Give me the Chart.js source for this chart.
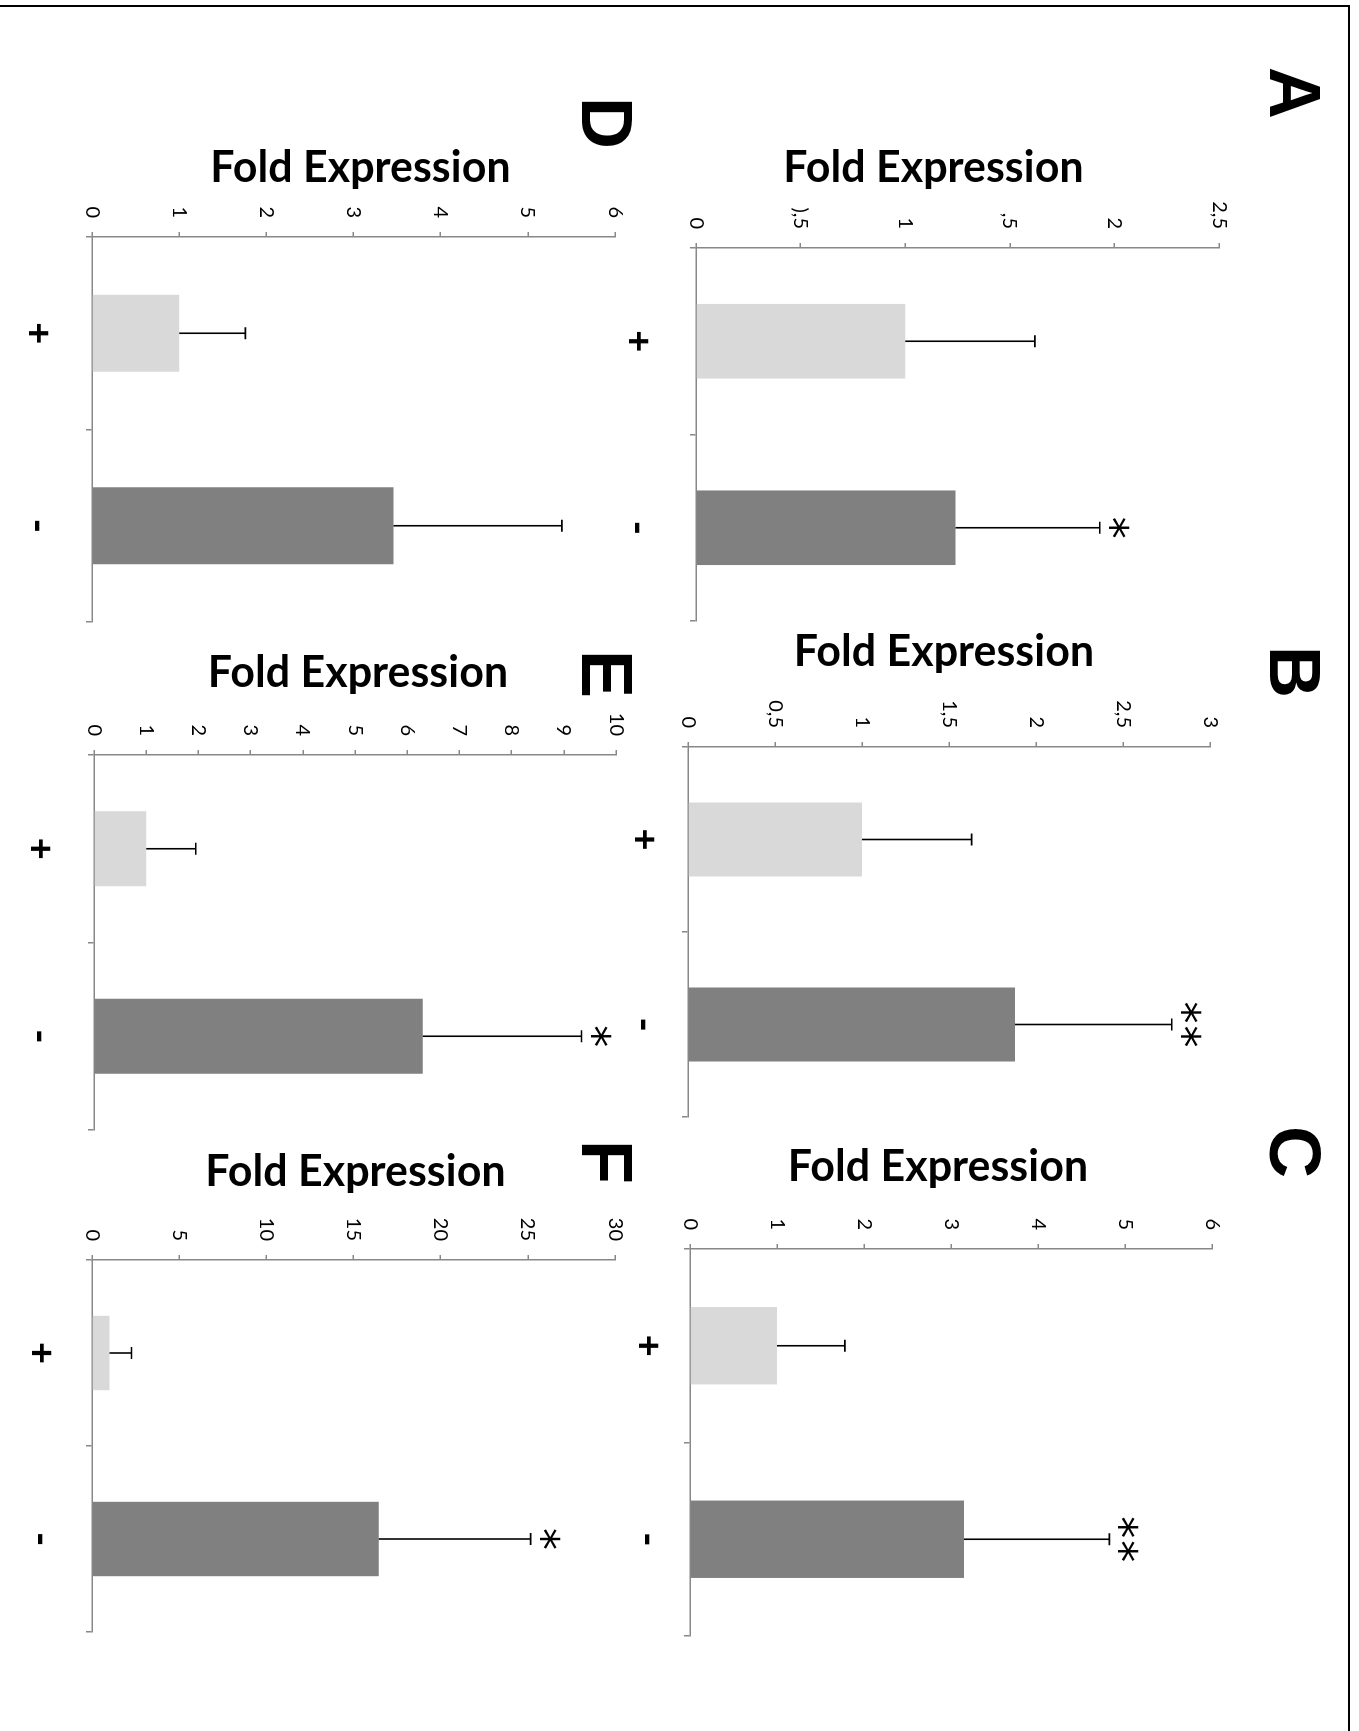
<!DOCTYPE html>
<html><head><meta charset="utf-8">
<script src="https://cdn.jsdelivr.net/npm/chart.js@4.4.1/dist/chart.umd.min.js"></script>
<style>
html,body{margin:0;padding:0;background:#fff;width:1359px;height:1731px;overflow:hidden;}
#fig{position:absolute;left:0;top:0;width:1731px;height:1359px;transform-origin:0 0;transform:translate(1359px,0) rotate(90deg);}
.letter{position:absolute;font-family:"Liberation Sans",Arial,sans-serif;font-weight:bold;font-size:72px;line-height:72px;color:#000;white-space:nowrap;}
#bt{position:absolute;left:0;top:5px;width:1350px;height:2px;background:#000;}
#br{position:absolute;left:1348px;top:5px;width:2px;height:1726px;background:#000;}
</style></head><body>
<div id="bt"></div><div id="br"></div>
<div id="fig"></div>
<script>
// ---- data ----
const categories = ['+', '-'];
const axisTitle = 'Fold Expression';
const panelLetters = ['A', 'B', 'C', 'D', 'E', 'F'];

const meanA = [1.0, 1.24];  const errA = [0.62, 0.69];  const sigA = ['', '*'];
const meanB = [1.0, 1.88];  const errB = [0.63, 0.90];  const sigB = ['', '**'];
const meanC = [1.0, 3.15];  const errC = [0.78, 1.67];  const sigC = ['', '**'];
const meanD = [1.0, 3.46];  const errD = [0.76, 1.93];  const sigD = ['', ''];
const meanE = [1.0, 6.30];  const errE = [0.95, 3.04];  const sigE = ['', '*'];
const meanF = [1.0, 16.45]; const errF = [1.27, 8.71];  const sigF = ['', '*'];

const ticksA = ['0', '),5', '1', ',5', '2', '2,5'];
const ticksB = ['0', '0,5', '1', '1,5', '2', '2,5', '3'];
const ticksC = ['0', '1', '2', '3', '4', '5', '6'];
const ticksD = ['0', '1', '2', '3', '4', '5', '6'];
const ticksE = ['0', '1', '2', '3', '4', '5', '6', '7', '8', '9', '10'];
const ticksF = ['0', '5', '10', '15', '20', '25', '30'];

const axisMax  = [2.5, 3, 6, 6, 10, 30];
const axisStep = [0.5, 0.5, 1, 1, 1, 5];

// ---- layout (original, unrotated figure coordinates) ----
const layoutBoxes = [
  {left: 248, right: 621, top: 140, bottom: 663, titleX: 168, titleShift: 24, labelPad: 29, lx: 67,   ly: 28},
  {left: 747, right: 1117, top: 149, bottom: 671, titleX: 652, titleShift: 5, labelPad: 15, lx: 646,  ly: 28},
  {left: 1249, right: 1636, top: 147, bottom: 669, titleX: 1167, titleShift: 13, labelPad: 13, lx: 1126, ly: 28},
  {left: 237, right: 622, top: 744, bottom: 1267, titleX: 168, titleShift: -7, labelPad: 25, lx: 97,   ly: 716},
  {left: 755, right: 1130, top: 743, bottom: 1265, titleX: 673, titleShift: -3, labelPad: 25, lx: 650,  ly: 716},
  {left: 1260, right: 1632, top: 744, bottom: 1267, titleX: 1172, titleShift: -2, labelPad: 22, lx: 1140, ly: 716}
];

const means = [meanA, meanB, meanC, meanD, meanE, meanF];
const errs = [errA, errB, errC, errD, errE, errF];
const sigs = [sigA, sigB, sigC, sigD, sigE, sigF];
const tickSets = [ticksA, ticksB, ticksC, ticksD, ticksE, ticksF];

const axisColor = '#888888';
const barColors = ['#d9d9d9', '#808080'];
const fig = document.getElementById('fig');
const TITLE_MARGIN = 45;

const errorPlugin = {
  id: 'errbars',
  afterDatasetsDraw(chart, args, opts) {
    const ctx = chart.ctx;
    const meta = chart.getDatasetMeta(0);
    const ys = chart.scales.y;
    const data = chart.data.datasets[0].data;
    ctx.save();
    ctx.strokeStyle = '#000';
    ctx.lineWidth = 1.6;
    meta.data.forEach((bar, i) => {
      const v = data[i];
      const y0 = ys.getPixelForValue(v);
      const y1 = ys.getPixelForValue(v + opts.err[i]);
      ctx.beginPath();
      ctx.moveTo(bar.x, y0); ctx.lineTo(bar.x, y1);
      ctx.moveTo(bar.x - 6, y1); ctx.lineTo(bar.x + 6, y1);
      ctx.stroke();
      const s = opts.sig[i];
      if (s) {
        ctx.font = '44px "DejaVu Sans"';
        ctx.fillStyle = '#000';
        ctx.textAlign = 'center';
        ctx.textBaseline = 'alphabetic';
        const mt = ctx.measureText('*');
        const base = y1 - 9 - mt.actualBoundingBoxDescent;
        const spacing = 24;
        const n = s.length;
        for (let k = 0; k < n; k++) {
          const x = bar.x + (k - (n - 1) / 2) * spacing;
          ctx.fillText(s[k], x, base);
        }
      }
    });
    ctx.restore();
  }
};

const titlePlugin = {
  id: 'axtitle',
  afterDraw(chart, args, opts) {
    const ctx = chart.ctx;
    const ys = chart.scales.y;
    ctx.save();
    ctx.translate(opts.x, (ys.top + ys.bottom) / 2 + opts.shift);
    ctx.rotate(-Math.PI / 2);
    ctx.font = 'bold 43px Lato';
    ctx.fillStyle = '#000';
    ctx.textAlign = 'center';
    ctx.textBaseline = 'middle';
    ctx.fillText(opts.text, 0, 0);
    ctx.restore();
  }
};

function makePanel(p) {
  const L = layoutBoxes[p];
  const m = {t: 30, r: 20, b: 100};
  const left0 = L.titleX - TITLE_MARGIN;
  const top0 = L.top - m.t;
  const W = Math.round(L.right + m.r - left0);
  const H = Math.round(L.bottom + m.b - top0);
  const canvas = document.createElement('canvas');
  canvas.width = W; canvas.height = H;
  canvas.style.cssText = `position:absolute;left:${left0}px;top:${top0}px;width:${W}px;height:${H}px;`;
  fig.appendChild(canvas);
  const yAxisW = L.left - left0;
  const labels = tickSets[p];

  new Chart(canvas, {
    type: 'bar',
    data: {
      labels: categories,
      datasets: [{
        data: means[p],
        backgroundColor: barColors,
        borderWidth: 0,
        barPercentage: 0.4,
        categoryPercentage: 1.0
      }]
    },
    options: {
      responsive: false,
      animation: false,
      devicePixelRatio: 1,
      layout: {padding: {top: m.t, right: m.r, left: 0, bottom: 0}},
      plugins: {
        legend: {display: false},
        tooltip: {enabled: false},
        errbars: {err: errs[p], sig: sigs[p]},
        axtitle: {text: axisTitle, x: TITLE_MARGIN, shift: L.titleShift}
      },
      scales: {
        x: {
          type: 'category',
          grid: {display: true, drawOnChartArea: false, drawTicks: true, tickLength: 6, color: axisColor, lineWidth: 1.5},
          border: {display: true, color: axisColor, width: 1.5},
          ticks: {font: {family: 'Lato', size: 38, weight: '900'}, color: '#000', padding: L.labelPad},
          afterFit: (s) => { s.height = m.b; }
        },
        y: {
          type: 'linear',
          min: 0,
          max: axisMax[p],
          ticks: {
            stepSize: axisStep[p],
            autoSkip: false,
            callback: (v, i) => labels[i],
            font: {family: 'Lato', size: 20},
            color: '#000',
            padding: 14
          },
          grid: {display: true, drawOnChartArea: false, drawTicks: true, tickLength: 5, color: axisColor, lineWidth: 1.5},
          border: {display: true, color: axisColor, width: 1.5},
          title: {display: false},
          afterFit: (s) => { s.width = yAxisW; }
        }
      }
    },
    plugins: [errorPlugin, titlePlugin]
  });

  const d = document.createElement('div');
  d.className = 'letter';
  d.style.left = L.lx + 'px';
  d.style.top = L.ly + 'px';
  d.textContent = panelLetters[p];
  fig.appendChild(d);
}

for (let p = 0; p < 6; p++) makePanel(p);
</script>
</body></html>
